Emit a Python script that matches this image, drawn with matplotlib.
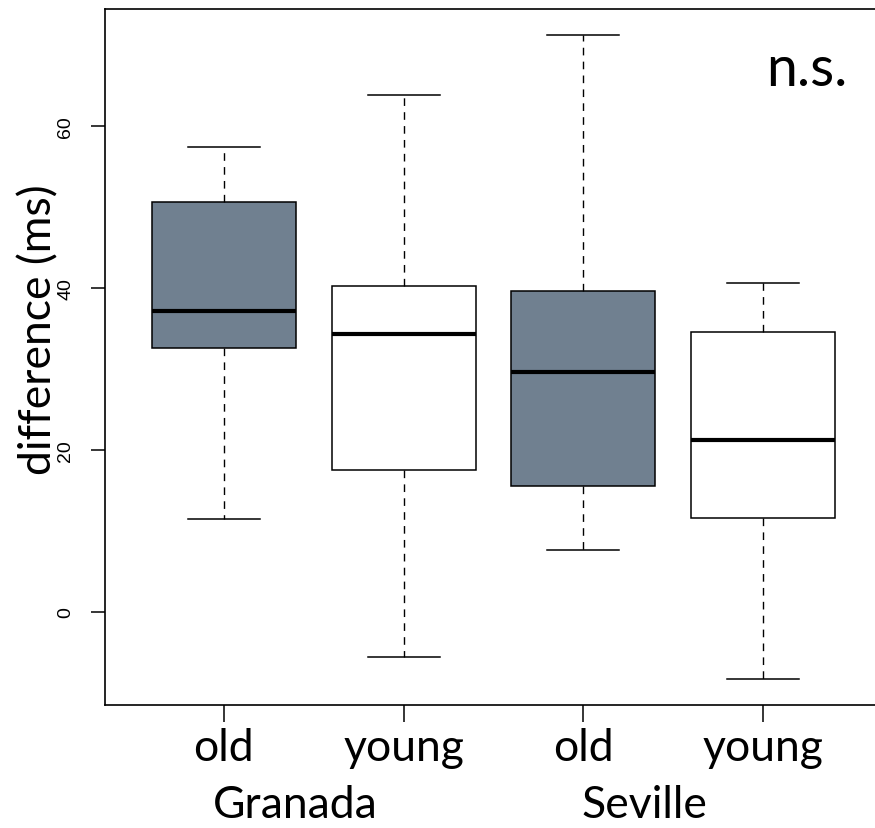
import matplotlib
matplotlib.use("Agg")
import matplotlib.pyplot as plt

# data
labels = ["old", "young", "old", "young"]
groups = ["Granada", "Seville"]
whislo = [11.5, -5.5, 7.7, -8.3]
q1 = [32.6, 17.5, 15.6, 11.6]
med = [37.2, 34.3, 29.7, 21.2]
q3 = [50.7, 40.3, 39.6, 34.6]
whishi = [57.4, 63.8, 71.3, 40.7]
fills = ["#708090", "white", "#708090", "white"]
yticks = [0, 20, 40, 60]

W, H = 875, 829
fig = plt.figure(figsize=(W / 100, H / 100), dpi=100)
left, right, top, bottom = 105, 882, 10, 706
ax = fig.add_axes([left / W, 1 - bottom / H, (right - left) / W, (bottom - top) / H])

stats = []
for i in range(len(labels)):
    stats.append(dict(whislo=whislo[i], q1=q1[i], med=med[i], q3=q3[i],
                      whishi=whishi[i], fliers=[], label=labels[i]))

bp = ax.bxp(stats, positions=range(1, 5), widths=0.8, patch_artist=True,
            showfliers=False,
            boxprops=dict(linewidth=1.1, edgecolor="black"),
            medianprops=dict(color="black", linewidth=3.0, solid_capstyle="butt"),
            whiskerprops=dict(color="black", linewidth=1.0, linestyle=(0, (5.5, 4.5))),
            capprops=dict(color="black", linewidth=1.1),
            capwidths=0.4)
for patch, c in zip(bp["boxes"], fills):
    patch.set_facecolor(c)

lo = min(whislo); hi = max(whishi); r = hi - lo
ax.set_ylim(lo - 0.04 * r, hi + 0.04 * r)
ax.set_xlim(0.34, 4.66)

for s in ax.spines.values():
    s.set_linewidth(1.2)

ax.set_yticks(yticks)
ax.set_yticklabels([str(t) for t in yticks], rotation=90, va="center",
                   fontsize=14, family="Liberation Sans")
ax.tick_params(axis="y", length=10, width=1.1, pad=12)
ax.set_xticks(range(1, 5))
ax.set_xticklabels(labels, fontsize=32, family="Lato")
ax.tick_params(axis="x", length=12, width=1.1, pad=4)

ax.set_ylabel("difference (ms)", fontsize=32, family="Lato")
ax.yaxis.set_label_coords(-0.058, 0.54)

base = -(818 - 706) / 696
ax.text(1.40, base, groups[0], transform=ax.get_xaxis_transform(),
        ha="center", va="baseline", fontsize=32, family="Lato")
ax.text(3.34, base, groups[1], transform=ax.get_xaxis_transform(),
        ha="center", va="baseline", fontsize=32, family="Lato")

ax.text(0.955, 0.95, "n.s.", transform=ax.transAxes, ha="right", va="top",
        fontsize=40, family="Lato")

fig.savefig("out.png", dpi=100)
